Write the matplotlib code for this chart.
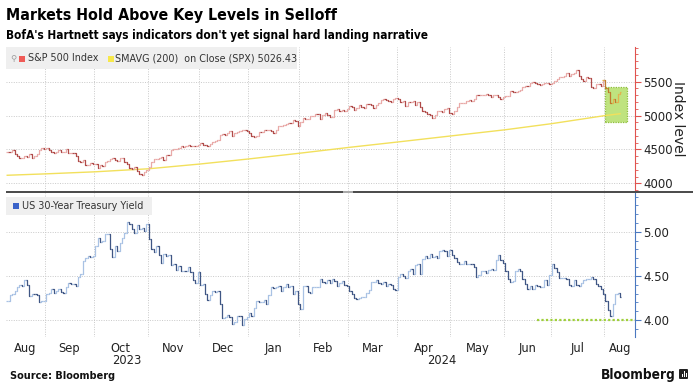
import os
import matplotlib
matplotlib.use("Agg")
import matplotlib.pyplot as plt
from matplotlib import font_manager as fm
from matplotlib.collections import LineCollection
from matplotlib.patches import Rectangle, FancyBboxPatch
from matplotlib.ticker import MultipleLocator, FixedLocator
import numpy as np

# ---------------- data ----------------
title = "Markets Hold Above Key Levels in Selloff"
subtitle = "BofA's Hartnett says indicators don't yet signal hard landing narrative"
source = "Source: Bloomberg"

month_labels = ["Aug", "Sep", "Oct", "Nov", "Dec", "Jan", "Feb", "Mar", "Apr", "May", "Jun", "Jul", "Aug"]
month_days = [16, 20, 22, 21, 20, 21, 20, 20, 22, 22, 19, 22, 7]   # trading days shown per month
year_labels = ["2023", "2024"]
year_first_month = [0, 5]

spx = [
    # Aug 2023
    4468, 4464, 4490, 4437, 4404, 4370, 4370, 4400, 4388, 4436, 4376, 4406, 4433, 4498, 4515, 4508,
    # Sep
    4516, 4497, 4465, 4451, 4457, 4487, 4462, 4467, 4505, 4450, 4454, 4444, 4402, 4330, 4320, 4337, 4274, 4274, 4300, 4288,
    # Oct
    4288, 4229, 4263, 4258, 4308, 4336, 4358, 4377, 4349, 4327, 4373, 4373, 4314, 4278, 4224, 4217, 4248, 4186, 4137, 4117, 4167, 4194,
    # Nov
    4237, 4318, 4358, 4365, 4378, 4383, 4347, 4415, 4411, 4496, 4502, 4509, 4514, 4547, 4538, 4556, 4559, 4550, 4555, 4551, 4568,
    # Dec
    4595, 4569, 4567, 4549, 4585, 4604, 4622, 4644, 4707, 4720, 4719, 4741, 4768, 4698, 4746, 4755, 4775, 4781, 4783, 4770,
    # Jan 2024
    4743, 4705, 4689, 4697, 4764, 4757, 4783, 4780, 4784, 4766, 4739, 4780, 4840, 4850, 4865, 4868, 4894, 4891, 4928, 4925, 4846,
    # Feb
    4906, 4959, 4943, 4954, 4995, 4998, 5027, 5022, 4953, 5001, 5030, 5006, 4976, 4982, 5088, 5089, 5070, 5078, 5070, 5096,
    # Mar
    5137, 5131, 5079, 5105, 5157, 5124, 5117, 5175, 5165, 5150, 5117, 5149, 5178, 5225, 5241, 5234, 5218, 5204, 5248, 5254,
    # Apr
    5243, 5205, 5211, 5147, 5204, 5202, 5209, 5161, 5199, 5123, 5061, 5051, 5022, 5011, 4967, 5011, 5070, 5072, 5048, 5100, 5116, 5036,
    # May
    5018, 5064, 5128, 5181, 5187, 5188, 5214, 5223, 5221, 5247, 5308, 5297, 5303, 5308, 5321, 5307, 5268, 5305, 5306, 5267, 5236, 5278,
    # Jun
    5283, 5291, 5354, 5352, 5347, 5361, 5375, 5421, 5434, 5432, 5473, 5487, 5473, 5465, 5448, 5469, 5478, 5483, 5460,
    # Jul
    5475, 5509, 5537, 5567, 5572, 5577, 5633, 5585, 5615, 5631, 5667, 5589, 5544, 5505, 5564, 5555, 5427, 5399, 5459, 5464, 5436, 5522,
]
spx_recent = [5410, 5346, 5186, 5240, 5199, 5319, 5344]   # Aug 2024, highlighted

sma_days = [0, 16, 36, 58, 79, 99, 120, 140, 160, 182, 204, 223, 245, 251]
sma_vals = [4119, 4140, 4170, 4215, 4285, 4360, 4445, 4530, 4610, 4700, 4790, 4880, 5000, 5026]
sma_last = "5026.43"

ust30 = [
    # Aug 2023
    4.22, 4.28, 4.30, 4.33, 4.37, 4.40, 4.38, 4.45, 4.40, 4.27, 4.30, 4.29, 4.28, 4.20, 4.21, 4.21,
    # Sep
    4.29, 4.31, 4.35, 4.31, 4.33, 4.35, 4.32, 4.31, 4.37, 4.42, 4.41, 4.41, 4.39, 4.49, 4.52, 4.67, 4.70, 4.72, 4.71, 4.73,
    # Oct
    4.84, 4.93, 4.88, 4.89, 4.97, 4.97, 4.80, 4.71, 4.84, 4.78, 4.87, 4.93, 4.99, 5.11, 5.09, 5.03, 4.99, 5.08, 5.03, 5.04, 5.01, 5.09,
    # Nov
    4.92, 4.80, 4.77, 4.84, 4.74, 4.65, 4.75, 4.73, 4.74, 4.62, 4.63, 4.57, 4.61, 4.55, 4.56, 4.55, 4.60, 4.54, 4.45, 4.42, 4.54,
    # Dec
    4.40, 4.41, 4.30, 4.23, 4.28, 4.33, 4.32, 4.33, 4.18, 4.02, 4.03, 4.06, 4.03, 3.95, 3.98, 4.05, 4.04, 3.94, 4.01, 4.03,
    # Jan 2024
    4.08, 4.05, 4.14, 4.21, 4.20, 4.20, 4.23, 4.18, 4.28, 4.37, 4.36, 4.37, 4.38, 4.33, 4.37, 4.41, 4.37, 4.38, 4.29, 4.33, 4.18,
    # Feb
    4.12, 4.38, 4.39, 4.32, 4.31, 4.37, 4.37, 4.37, 4.47, 4.43, 4.42, 4.45, 4.42, 4.46, 4.44, 4.39, 4.42, 4.44, 4.40, 4.38,
    # Mar
    4.33, 4.29, 4.25, 4.24, 4.25, 4.26, 4.26, 4.31, 4.34, 4.43, 4.43, 4.45, 4.42, 4.41, 4.43, 4.38, 4.41, 4.40, 4.35, 4.34,
    # Apr
    4.49, 4.52, 4.50, 4.48, 4.55, 4.58, 4.52, 4.62, 4.63, 4.52, 4.69, 4.73, 4.70, 4.75, 4.71, 4.72, 4.70, 4.78, 4.79, 4.78, 4.73, 4.79,
    # May
    4.74, 4.70, 4.66, 4.63, 4.63, 4.67, 4.64, 4.64, 4.63, 4.60, 4.49, 4.51, 4.56, 4.56, 4.53, 4.57, 4.58, 4.57, 4.68, 4.74, 4.68, 4.65,
    # Jun
    4.55, 4.47, 4.43, 4.44, 4.55, 4.58, 4.56, 4.47, 4.41, 4.35, 4.39, 4.35, 4.40, 4.39, 4.37, 4.37, 4.45, 4.40, 4.51,
    # Jul
    4.63, 4.59, 4.54, 4.48, 4.48, 4.48, 4.47, 4.40, 4.39, 4.45, 4.40, 4.38, 4.42, 4.45, 4.46, 4.46, 4.49, 4.47, 4.41, 4.38, 4.35, 4.30,
    # Aug
    4.21, 4.11, 4.04, 4.18, 4.29, 4.31, 4.26,
]

support_level = 4.00
support_start_day = 217

box_low, box_high = 4900, 5420

# ---------------- figure ----------------
W, H = 693, 386
fig = plt.figure(figsize=(W / 100, H / 100), dpi=100)
fig.patch.set_facecolor("white")


def px_rect(x0, y0, x1, y1):
    return [x0 / W, 1 - y1 / H, (x1 - x0) / W, (y1 - y0) / H]


def font_file(*names):
    files = fm.findSystemFonts()
    for n in names:
        for f in files:
            if os.path.basename(f).lower() == n.lower():
                return f
    return None


cond_bold = font_file("DejaVuSansCondensed-Bold.ttf", "LiberationSansNarrow-Bold.ttf")
if cond_bold:
    tfont = fm.FontProperties(fname=cond_bold)
else:
    tfont = fm.FontProperties(family="DejaVu Sans", weight="bold")

renderer = fig.canvas.get_renderer()


def fit(t, target):
    w = t.get_window_extent(renderer).width
    t.set_fontsize(t.get_fontsize() * target / w)


t1 = fig.text(6 / W, 1 - 20 / H, title, fontproperties=tfont, fontsize=14, color="black", va="baseline")
fit(t1, 331)
t2 = fig.text(6 / W, 1 - 39 / H, subtitle, fontproperties=tfont, fontsize=11, color="black", va="baseline")
fit(t2, 422)

XL, XR = -0.5, 257.1

ax1 = fig.add_axes(px_rect(6, 47, 635, 191))
ax2 = fig.add_axes(px_rect(6, 193, 635, 336.7))

bounds = np.concatenate([[0], np.cumsum(month_days)]) - 0.5

grid_kw = dict(color="#c9c9c9", linestyle=(0, (1, 1.5)), linewidth=0.7)


def ohlc(ax, vals, start, up, dn, lw=1.0, z=3):
    segs, cols = [], []
    for i, c in enumerate(vals):
        o = vals[i - 1] if i > 0 else c
        x = start + i
        segs.append([(x - 0.5, o), (x, o), (x, c), (x + 0.5, c)])
        cols.append(up if c >= o else dn)
    ax.add_collection(LineCollection(segs, colors=cols, linewidths=lw, zorder=z, capstyle="butt"))


for ax in (ax1, ax2):
    ax.set_xlim(XL, XR)
    for s in ("left", "top", "bottom"):
        ax.spines[s].set_visible(False)
    ax.set_facecolor("white")
    ax.xaxis.set_minor_locator(FixedLocator(bounds[1:-1]))
    ax.grid(True, which="minor", axis="x", **grid_kw)
    ax.grid(True, which="major", axis="y", **grid_kw)
    ax.tick_params(axis="x", which="both", length=0)
    ax.yaxis.tick_right()
    ax.set_axisbelow(True)

# --- top panel ---
ax1.set_ylim(3887, 6010)
ax1.set_yticks([4000, 4500, 5000, 5500])
ax1.yaxis.set_minor_locator(MultipleLocator(100))
red = "#e0534f"
ax1.spines["right"].set_color(red)
ax1.tick_params(axis="y", which="major", colors=red, labelcolor="#222222", length=4, width=0.8,
                labelsize=8.5, pad=2)
ax1.tick_params(axis="y", which="minor", colors=red, length=2, width=0.6)
ax1.set_xticks([])

ax1.add_patch(Rectangle((244.8, box_low), 254.0 - 244.8, box_high - box_low, facecolor="#bfe37f",
                        edgecolor="#8fbf3c", linestyle=(0, (1, 1)), linewidth=0.9, zorder=2))

ax1.plot(sma_days, sma_vals, color="#f2e05c", linewidth=1.0, zorder=2.5)
ohlc(ax1, spx, 0, "#e9aaa8", "#b04a48", lw=0.9)
ohlc(ax1, [spx[-1]] + spx_recent, len(spx) - 1, "#e2b24e", "#c07a2e", lw=0.9, z=4)

fig.text(678 / W, 1 - 119 / H, "Index level", rotation=270, fontsize=10, color="#222222",
         ha="center", va="center")

# legend box top
fig.patches.append(Rectangle((6 / W, 1 - 69 / H), (297 - 6) / W, 22 / H, transform=fig.transFigure,
                             facecolor="#efefef", edgecolor="none", zorder=5))
fig.text(10 / W, 1 - 58 / H, "⚲", fontsize=6, color="#999999", va="center", zorder=6)
fig.patches.append(Rectangle((19 / W, 1 - 61.5 / H), 6 / W, 6 / H, transform=fig.transFigure,
                             facecolor="#ef5b57", edgecolor="none", zorder=6))
fig.text(28 / W, 1 - 58.3 / H, "S&P 500 Index", fontsize=6.9, color="#333333", va="center", zorder=6)
fig.patches.append(Rectangle((108 / W, 1 - 61.5 / H), 6 / W, 6 / H, transform=fig.transFigure,
                             facecolor="#f7e84a", edgecolor="none", zorder=6))
fig.text(115 / W, 1 - 58.3 / H, "SMAVG (200)  on Close (SPX) " + sma_last, fontsize=6.9,
         color="#333333", va="center", zorder=6)

# --- bottom panel ---
ax2.set_ylim(3.81, 5.44)
ax2.set_yticks([4.0, 4.5, 5.0])
ax2.set_yticklabels(["4.00", "4.50", "5.00"])
ax2.yaxis.set_minor_locator(MultipleLocator(0.1))
blue = "#4a78c0"
ax2.spines["right"].set_color(blue)
ax2.tick_params(axis="y", which="major", colors=blue, labelcolor="#222222", length=4, width=0.8,
                labelsize=8.5, pad=2)
ax2.tick_params(axis="y", which="minor", colors=blue, length=2, width=0.6)

ohlc(ax2, ust30, 0, "#a9c2e4", "#3f5684", lw=0.9)
ax2.plot([support_start_day, XR], [support_level, support_level], color="#9fd03a",
         linestyle=(0, (1, 1)), linewidth=1.6, zorder=4, clip_on=False)

centers = [(max(bounds[i], XL) + min(bounds[i + 1], XR)) / 2 for i in range(len(month_labels))]
centers[-1] = (bounds[-2] + XR) / 2
ax2.set_xticks(centers)
ax2.set_xticklabels(month_labels, fontsize=8.3, color="#222222")
ax2.tick_params(axis="x", which="major", pad=3.5)

year_edges = [XL, bounds[year_first_month[1]], XR]
for k, lab in enumerate(year_labels):
    ax2.text((year_edges[k] + year_edges[k + 1]) / 2, -0.165, lab, transform=ax2.get_xaxis_transform(),
             ha="center", va="center", fontsize=8.3, color="#222222")

fig.patches.append(Rectangle((6 / W, 1 - 215 / H), (152 - 6) / W, 18 / H, transform=fig.transFigure,
                             facecolor="#efefef", edgecolor="none", zorder=5))
fig.patches.append(Rectangle((13 / W, 1 - 209 / H), 6 / W, 6 / H, transform=fig.transFigure,
                             facecolor="#3b63c9", edgecolor="none", zorder=6))
fig.text(22 / W, 1 - 205.8 / H, "US 30-Year Treasury Yield", fontsize=6.9, color="#333333",
         va="center", zorder=6)

# separator bar
fig.patches.append(Rectangle((6 / W, 1 - 193.2 / H), (693 - 6) / W, 2.6 / H, transform=fig.transFigure,
                             facecolor="#4d4d4d", edgecolor="none", zorder=7))
fig.patches.append(Rectangle((343 / W, 1 - 192.6 / H), 10 / W, 1.2 / H, transform=fig.transFigure,
                             facecolor="#aaaaaa", edgecolor="none", zorder=8))

# footer
s = fig.text(10 / W, 1 - 379 / H, source, fontproperties=fm.FontProperties(family="DejaVu Sans", weight="bold"),
             fontsize=7, color="#111111", va="baseline")
fit(s, 105)
b = fig.text(676 / W, 1 - 379 / H, "Bloomberg", fontproperties=tfont, fontsize=11, color="#111111",
             va="baseline", ha="right")
fit(b, 75)
fig.patches.append(FancyBboxPatch((679 / W, 1 - 379 / H), 9 / W, 10 / H, boxstyle="round,pad=0,rounding_size=0.002",
                                  transform=fig.transFigure, facecolor="#222222", edgecolor="none"))
for bx, bh in [(681.5, 3), (683.5, 6), (685.5, 4)]:
    fig.patches.append(Rectangle((bx / W, 1 - 377 / H), 1.1 / W, bh / H, transform=fig.transFigure,
                                 facecolor="white", edgecolor="none"))

fig.savefig("out.png", dpi=100, facecolor="white")
